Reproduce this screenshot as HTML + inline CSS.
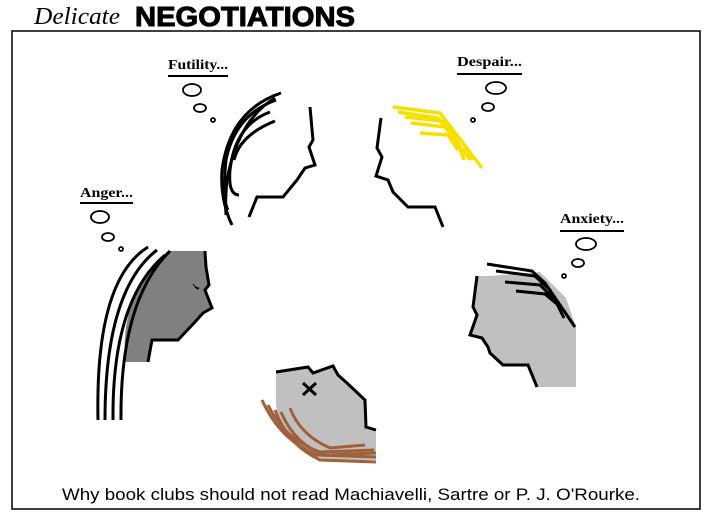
<!DOCTYPE html>
<html><head><meta charset="utf-8"><style>
html,body{margin:0;padding:0;background:#fff;width:703px;height:513px;overflow:hidden}
</style></head><body>
<svg width="703" height="513" viewBox="0 0 703 513" xmlns="http://www.w3.org/2000/svg">
<rect x="12" y="31" width="688" height="478" fill="none" stroke="#000" stroke-width="1.5"/>
<text x="34" y="24" font-family="Liberation Serif, serif" font-style="italic" font-size="24" fill="#000" textLength="86" lengthAdjust="spacingAndGlyphs">Delicate</text>
<text x="135" y="26" font-family="Liberation Sans, sans-serif" font-weight="bold" font-size="28" fill="#000" textLength="220" lengthAdjust="spacingAndGlyphs" stroke="#000" stroke-width="1">NEGOTIATIONS</text>

<g font-family="Liberation Serif, serif" font-weight="bold" font-size="14" fill="#000">
<text x="168" y="69" textLength="60" lengthAdjust="spacingAndGlyphs">Futility...</text>
<text x="457" y="66" textLength="65" lengthAdjust="spacingAndGlyphs">Despair...</text>
<text x="80" y="197" textLength="53" lengthAdjust="spacingAndGlyphs">Anger...</text>
<text x="560" y="223" textLength="64" lengthAdjust="spacingAndGlyphs">Anxiety...</text>
</g>
<g stroke="#000" stroke-width="2">
<line x1="168" y1="76" x2="228" y2="76"/>
<line x1="457" y1="74" x2="522" y2="74"/>
<line x1="80" y1="203" x2="133" y2="203"/>
<line x1="560" y1="231" x2="624" y2="231"/>
</g>
<g fill="none" stroke="#000" stroke-width="1.8">
<ellipse cx="192" cy="90" rx="9" ry="6"/><ellipse cx="200" cy="108" rx="6" ry="4"/><circle cx="213" cy="120" r="2"/>
<ellipse cx="496" cy="88" rx="10" ry="6"/><ellipse cx="488" cy="107" rx="6" ry="4"/><circle cx="473" cy="120" r="2"/>
<ellipse cx="100" cy="217" rx="9" ry="6"/><ellipse cx="108" cy="237" rx="6" ry="4"/><circle cx="121" cy="249" r="2"/>
<ellipse cx="586" cy="244" rx="10" ry="6"/><ellipse cx="578" cy="263" rx="6" ry="4"/><circle cx="564" cy="276" r="2"/>
</g>

<!-- Anger -->
<path d="M205,251 L206,267 L209,285 L205,290 L212,308 L203,313 L195,322 L178,340 L152,340 L148,362 L125,362 Q120,290 170,251 Z" fill="#808080"/>
<path d="M205,251 L206,267 L209,285 L205,290 L212,308 L203,313 L195,322 L178,340 L152,340 L148,362" fill="none" stroke="#000" stroke-width="3"/>
<g fill="none" stroke="#000" stroke-width="3">
<path d="M148,247 Q95,280 98,420"/><path d="M157,250 Q105,290 105,420"/><path d="M165,255 Q112,300 113,420"/><path d="M170,251 Q120,300 121,420"/>
</g>
<path d="M193,284 q3,4 6,4 M195,287 q2,2 4,2" stroke="#000" stroke-width="1" fill="none"/>

<!-- Futility -->
<path d="M310,107 L313,140 L309,147 L315,165 L305,168 L297,180 L283,197 L257,197 L249,217" fill="none" stroke="#000" stroke-width="3"/>
<g fill="none" stroke="#000" stroke-width="3">
<path d="M281,93 Q230,110 222,170 Q220,200 232,225"/>
<path d="M276,100 Q235,115 226,160 Q222,200 228,210"/>
<path d="M270,112 Q235,125 230,170 Q228,195 239,195"/>
<path d="M275,121 Q240,135 234,160"/>
<path d="M275,98 Q238,120 227,180 Q225,200 226,215"/>
</g>

<!-- Despair -->
<path d="M381,118 L377,148 L382,157 L376,176 L388,180 L393,192 L408,207 L435,207 L443,227" fill="none" stroke="#000" stroke-width="3"/>
<g fill="none" stroke="#f5e000" stroke-width="3.5">
<path d="M393,107 L440,113 L453,130 L482,168"/>
<path d="M398,112 L438,118 L455,140 L470,160"/>
<path d="M411,123 L445,127 L461,140 L473,160"/>
<path d="M420,133 L448,135 L458,150"/>
<path d="M405,117 L442,121 L458,143 L464,160"/>
</g>

<!-- Anxiety -->
<path d="M477,276 L490,276 L540,272 L566,298 L576,327 L576,387 L537,387 L528,365 L503,365 L490,353 L488,347 L482,338 L470,335 L477,315 L473,307 Z" fill="#c0c0c0"/>
<path d="M477,276 L473,307 L477,315 L470,335 L482,338 L488,347 L490,353 L503,365 L528,365 L537,387" fill="none" stroke="#000" stroke-width="3"/>
<g fill="none" stroke="#000" stroke-width="3">
<path d="M487,264 L532,271 L545,283 L575,327"/>
<path d="M496,271 L535,276 L550,290 L564,318"/>
<path d="M505,282 L540,285 L555,300 L562,310"/>
<path d="M516,291 L545,294 L558,305"/>
</g>

<!-- Bottom -->
<path d="M276,372 L308,367 L313,373 L333,366 L338,375 L347,383 L365,400 L366,427 L376,430 L376,460 L330,462 L300,450 L280,430 L276,405 Z" fill="#c0c0c0"/>
<path d="M276,372 L308,367 L313,373 L333,366 L338,375 L347,383 L365,400 L366,427 L376,430" fill="none" stroke="#000" stroke-width="3"/>
<path d="M303,383 L316,395 M316,383 L303,395" stroke="#000" stroke-width="3"/>
<g fill="none" stroke="#a0603c" stroke-width="3">
<path d="M262,400 Q280,440 317,455 L376,457"/>
<path d="M268,405 Q285,440 320,452 L374,450"/>
<path d="M281,412 Q295,445 325,455 L376,453"/>
<path d="M290,408 Q300,435 330,448 L365,445"/>
<path d="M275,410 Q288,445 320,460 L376,462"/>
</g>

<text x="351" y="500" text-anchor="middle" font-family="Liberation Sans, sans-serif" font-size="17" fill="#000" textLength="578" lengthAdjust="spacingAndGlyphs">Why book clubs should not read Machiavelli, Sartre or P. J. O'Rourke.</text>
</svg>
</body></html>
